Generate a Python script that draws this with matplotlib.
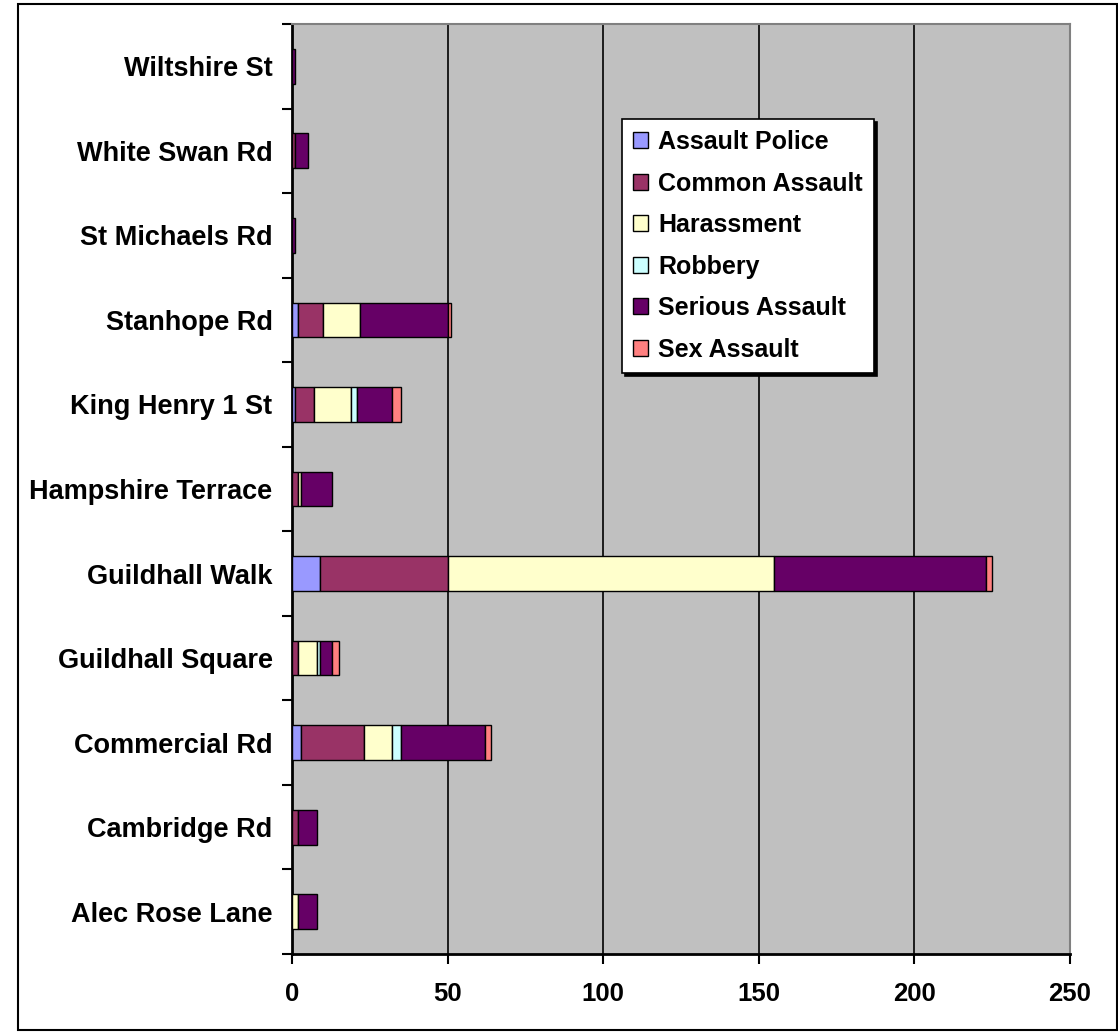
import numpy as np
import matplotlib.pyplot as plt
from matplotlib.patches import Rectangle

plt.rcParams['font.family'] = ['Liberation Sans', 'DejaVu Sans']
plt.rcParams['font.weight'] = 'bold'

streets = ["Alec Rose Lane", "Cambridge Rd", "Commercial Rd", "Guildhall Square",
           "Guildhall Walk", "Hampshire Terrace", "King Henry 1 St", "Stanhope Rd",
           "St Michaels Rd", "White Swan Rd", "Wiltshire St"]
crime_types = ["Assault Police", "Common Assault", "Harassment", "Robbery",
               "Serious Assault", "Sex Assault"]

assault_police = [0, 0, 3, 0, 9, 0, 1, 2, 0, 0, 0]
common_assault = [0, 2, 20, 2, 41, 2, 6, 8, 0, 1, 0]
harassment = [2, 0, 9, 6, 105, 1, 12, 12, 0, 0, 0]
robbery = [0, 0, 3, 1, 0, 0, 2, 0, 0, 0, 0]
serious_assault = [6, 6, 27, 4, 68, 10, 11, 28, 1, 4, 1]
sex_assault = [0, 0, 2, 2, 2, 0, 3, 1, 0, 0, 0]

colors = ["#9999FF", "#993366", "#FFFFCC", "#CCFFFF", "#660066", "#FF8080"]
series = [assault_police, common_assault, harassment, robbery, serious_assault, sex_assault]

fig = plt.figure(figsize=(11.18, 10.32), dpi=100)
ax = fig.add_axes([292 / 1118, 1 - 954 / 1032, (1070 - 292) / 1118, (954 - 24) / 1032])
ax.set_facecolor("#C0C0C0")

y = np.arange(len(streets))
left = np.zeros(len(streets))
for name, vals, c in zip(crime_types, series, colors):
    vals = np.array(vals, dtype=float)
    mask = vals > 0
    ax.barh(y[mask], vals[mask], left=left[mask], height=0.41, color=c,
            edgecolor="black", linewidth=1.0, label=name, zorder=3)
    left += vals

ax.set_xlim(0, 250)
ax.set_ylim(-0.5, len(streets) - 0.5)
ax.set_xticks([0, 50, 100, 150, 200, 250])
ax.xaxis.grid(True, color="black", linewidth=1.2, zorder=1)
ax.set_axisbelow(True)

ax.set_yticks(y)
ax.set_yticklabels(streets, fontsize=19.5, fontweight="bold")
ax.set_yticks(np.arange(-0.5, len(streets), 1), minor=True)
ax.tick_params(axis="y", which="major", length=0, pad=14)
ax.tick_params(axis="y", which="minor", length=7, width=1.5, direction="out")
ax.tick_params(axis="x", length=7, width=1.5, direction="out", labelsize=18.5, pad=13)
for lab in ax.get_xticklabels():
    lab.set_fontweight("bold")

for s in ["left", "bottom"]:
    ax.spines[s].set_color("black")
    ax.spines[s].set_linewidth(2)
for s in ["top", "right"]:
    ax.spines[s].set_color("#808080")
    ax.spines[s].set_linewidth(1.5)

# legend box with shadow
leg = ax.legend(loc="upper left", bbox_to_anchor=((622 - 292) / 778, (954 - 119) / 930),
                fontsize=18, frameon=True, fancybox=False, shadow={'color': 'black', 'alpha': 1},
                handlelength=0.6, handleheight=0.6, handletextpad=0.4,
                labelspacing=0.7, borderpad=0.45, borderaxespad=0)
leg.get_frame().set_edgecolor("black")
leg.get_frame().set_linewidth(1.2)
leg.get_frame().set_alpha(1)
for t in leg.get_texts():
    t.set_fontweight("bold")
for h in leg.legend_handles:
    h.set_linewidth(1)

# outer chart border
fig.patches.append(Rectangle((18 / 1118, 2 / 1032), 1 - 19 / 1118, 1 - 6 / 1032,
                             transform=fig.transFigure, fill=False,
                             edgecolor="black", linewidth=1.5))

fig.savefig("out.png", dpi=100, facecolor="white")
